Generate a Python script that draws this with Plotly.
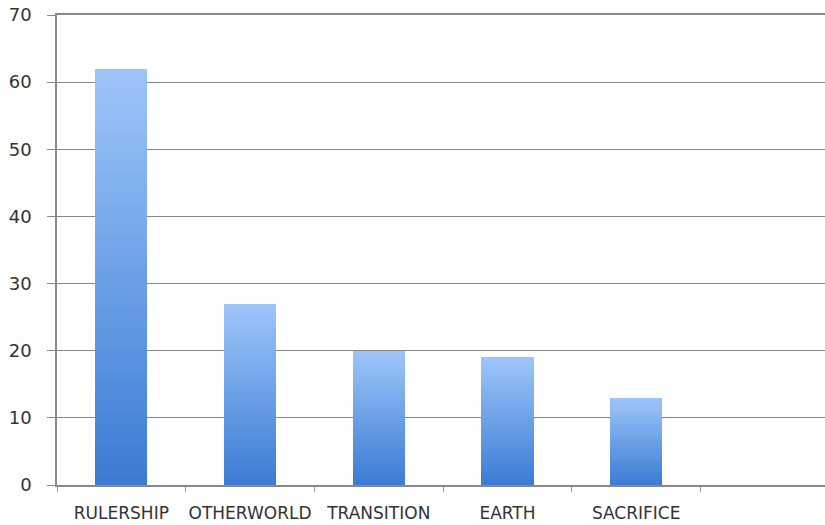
import plotly.graph_objects as go

categories = ["RULERSHIP", "OTHERWORLD", "TRANSITION", "EARTH", "SACRIFICE"]
values = [62, 27, 20, 19, 13]
y_ticks = [0, 10, 20, 30, 40, 50, 60, 70]

N_SLICES = 40
bottom_rgb = (58, 124, 212)
top_rgb = (158, 197, 249)

fig = go.Figure()
for i in range(N_SLICES):
    t = (i + 0.5) / N_SLICES
    c = tuple(round(b + (tp - b) * t) for b, tp in zip(bottom_rgb, top_rgb))
    fig.add_trace(go.Bar(
        x=categories,
        y=[v / N_SLICES for v in values],
        marker=dict(color="rgb(%d,%d,%d)" % c, line=dict(width=0)),
        width=0.405,
        showlegend=False,
        hoverinfo="skip",
    ))

fig.update_layout(
    width=825, height=525,
    barmode="stack",
    bargap=0,
    plot_bgcolor="white",
    paper_bgcolor="white",
    margin=dict(l=57, r=0, t=15, b=40),
    font=dict(family="DejaVu Sans", size=17, color="#333333"),
)
fig.update_xaxes(
    type="category",
    range=[-0.5, 5.467],
    tickson="boundaries",
    ticks="outside",
    ticklen=5,
    tickcolor="#999999",
    tickangle=0,
    showline=True,
    mirror=True,
    linecolor="#888888",
    linewidth=1.5,
    showgrid=False,
    automargin=False,
    ticklabelstandoff=12,
    tickfont=dict(size=17, color="#333333"),
)
fig.update_yaxes(
    range=[0, 70],
    tickvals=y_ticks,
    ticks="outside",
    ticklen=8,
    tickcolor="#888888",
    showline=True,
    linecolor="#888888",
    linewidth=1.5,
    gridcolor="#888888",
    gridwidth=1.2,
    zeroline=False,
    automargin=False,
    ticklabelstandoff=12,
    tickfont=dict(size=18, color="#333333"),
)

fig.write_html("out.html", config={"displayModeBar": False},
               post_script="document.body.style.margin='0';")
